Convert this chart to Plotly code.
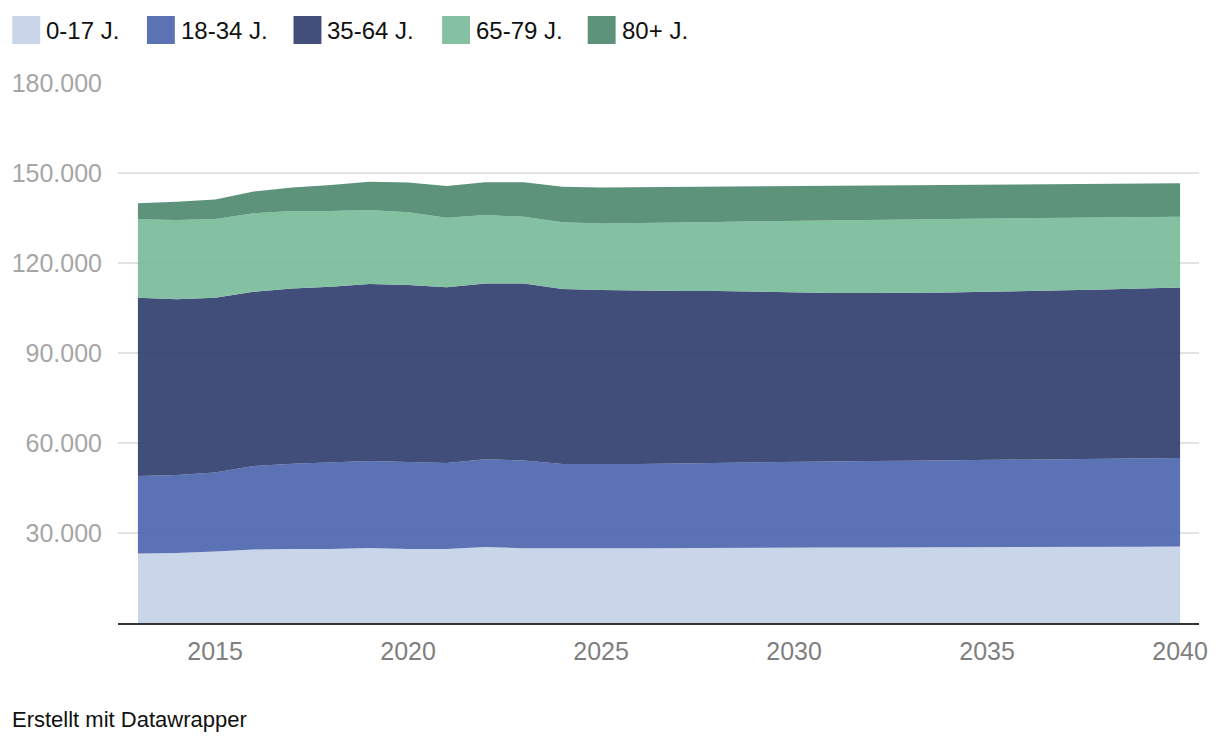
import plotly.graph_objects as go

years = list(range(2013, 2041))

age_0_17 = [23200, 23300, 23800, 24500, 24700, 24700, 25000, 24700, 24700, 25300,
            24900, 25000, 24900, 24900, 25000, 25100, 25100, 25200, 25200, 25200,
            25200, 25300, 25300, 25300, 25300, 25400, 25400, 25500]
age_18_34 = [25800, 26000, 26400, 27800, 28400, 28900, 29000, 29000, 28600, 29300,
             29300, 28000, 28000, 28100, 28200, 28300, 28500, 28600, 28700, 28800,
             28900, 28900, 29100, 29200, 29300, 29300, 29400, 29500]
age_35_64 = [59400, 58600, 58200, 58100, 58400, 58500, 59000, 59000, 58600, 58600,
             59000, 58300, 58100, 57800, 57500, 57300, 56800, 56300, 56100, 56000,
             55900, 56000, 56000, 56100, 56300, 56500, 56700, 56800]
age_65_79 = [26200, 26400, 26300, 26200, 25800, 25200, 24700, 24200, 23200, 22800,
             22200, 22300, 22200, 22500, 22800, 23000, 23500, 23900, 24200, 24300,
             24500, 24500, 24400, 24300, 24200, 24000, 23800, 23600]
age_80_plus = [5300, 6100, 6500, 7200, 7900, 8700, 9400, 9900, 10600, 10900,
               11500, 11800, 12000, 12000, 11900, 11900, 11800, 11800, 11700, 11700,
               11500, 11400, 11400, 11400, 11200, 11200, 11200, 11200]

series_names = ["0-17 J.", "18-34 J.", "35-64 J.", "65-79 J.", "80+ J."]
series_values = [age_0_17, age_18_34, age_35_64, age_65_79, age_80_plus]
fill_colors = ["rgba(195,209,232,0.9)", "rgba(73,99,172,0.9)", "rgba(44,59,107,0.9)",
               "rgba(119,185,152,0.9)", "rgba(74,135,108,0.9)"]
legend_colors = ["#c9d6ea", "#5b73b4", "#414f7a", "#85c0a2", "#5d937b"]

x_tick_vals = [2015, 2020, 2025, 2030, 2035, 2040]
x_tick_text = ["2015", "2020", "2025", "2030", "2035", "2040"]
y_tick_vals = [30000, 60000, 90000, 120000, 150000, 180000]
y_tick_text = ["30.000", "60.000", "90.000", "120.000", "150.000", "180.000"]

W, H = 1220, 740
L, R, T, B = 116, 20, 83, 117
PW = W - L - R
PH = H - T - B


def px_x(p):
    return (p - L) / PW


def px_y(p):
    return (H - B - p) / PH


fig = go.Figure()
for name, vals, fc in zip(series_names, series_values, fill_colors):
    fig.add_trace(go.Scatter(
        x=years, y=vals, name=name, mode="lines", stackgroup="one",
        line=dict(width=0), fillcolor=fc, showlegend=False,
        hoverinfo="x+y+name",
    ))

font_family = "Liberation Sans, Arial, sans-serif"

# manual legend
legend_x = [10, 145, 292, 441, 587]
shapes = []
annotations = []
for lx, name, col in zip(legend_x, series_names, legend_colors):
    shapes.append(dict(type="rect", xref="paper", yref="paper",
                       x0=px_x(lx), x1=px_x(lx + 28), y0=px_y(44), y1=px_y(16),
                       fillcolor=col, line=dict(width=0)))
    annotations.append(dict(xref="paper", yref="paper", x=px_x(lx + 32), y=px_y(30),
                            text=name, showarrow=False, xanchor="left", yanchor="middle",
                            font=dict(size=24, color="#111111", family=font_family)))

annotations.append(dict(xref="paper", yref="paper", x=px_x(8), y=px_y(719),
                        text="Erstellt mit Datawrapper", showarrow=False,
                        xanchor="left", yanchor="middle",
                        font=dict(size=22, color="#111111", family=font_family)))

x_left = 2013 - 20 / 38.74
x_right = 2040 + 19 / 38.74

fig.update_layout(
    width=W, height=H,
    margin=dict(l=L, r=R, t=T, b=B, pad=0),
    paper_bgcolor="white", plot_bgcolor="white",
    font=dict(family=font_family),
    shapes=shapes, annotations=annotations,
    showlegend=False,
    xaxis=dict(
        range=[x_left, x_right], tickvals=x_tick_vals, ticktext=x_tick_text,
        showgrid=False, zeroline=False, showline=True, linecolor="#333333", linewidth=2,
        ticks="", tickfont=dict(size=25, color="#7f7f7f", family=font_family),
        ticklabelstandoff=5,
    ),
    yaxis=dict(
        range=[0, 180000], tickvals=y_tick_vals, ticktext=y_tick_text,
        showgrid=True, gridcolor="#e3e3e3", gridwidth=2, zeroline=False,
        showline=False, ticks="", tickfont=dict(size=25, color="#a6a6a6", family=font_family),
        ticklabelstandoff=15,
    ),
)

fig.write_html("out.html", config={"displayModeBar": False},
               post_script="document.body.style.margin='0';document.body.style.padding='0';")
